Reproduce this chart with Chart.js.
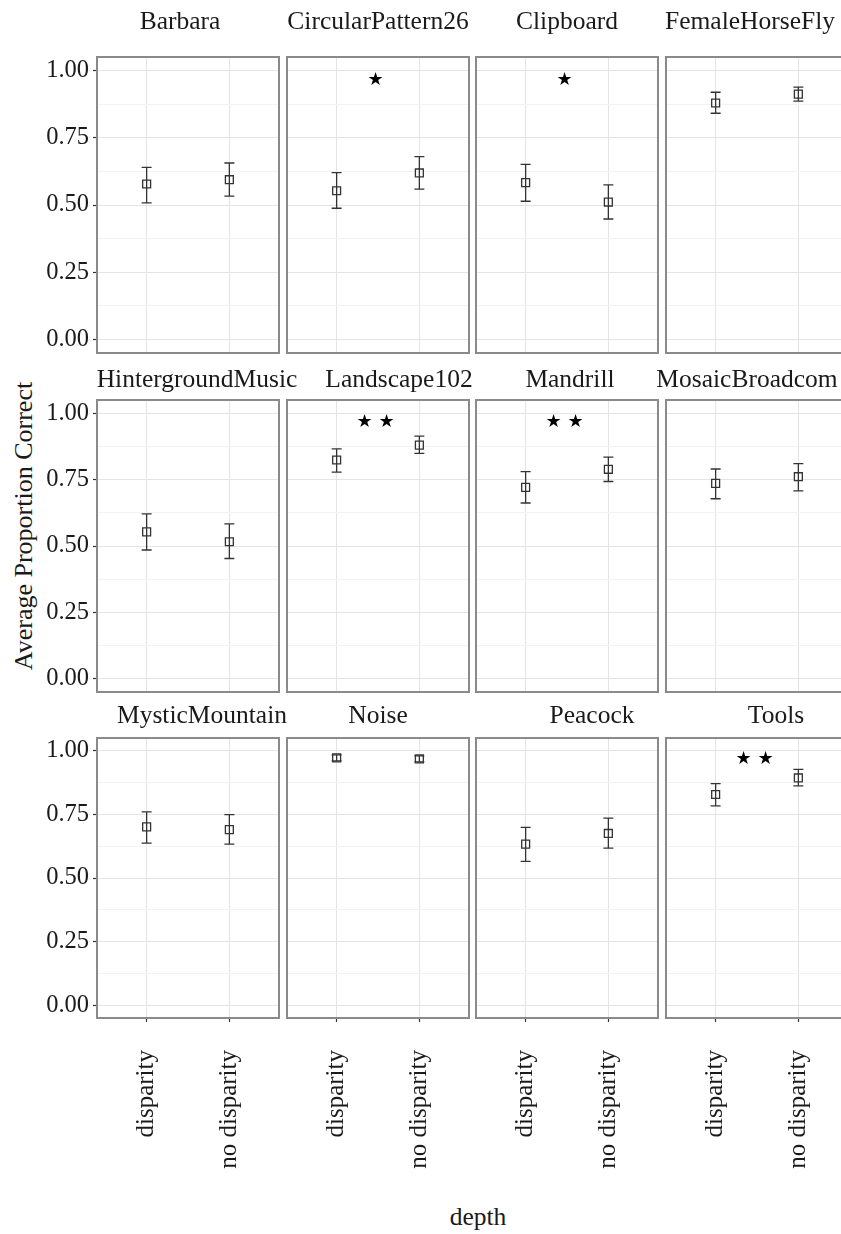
<!DOCTYPE html>
<html>
<head>
<meta charset="utf-8">
<script src="https://cdn.jsdelivr.net/npm/chart.js@4.4.1/dist/chart.umd.min.js"></script>
<style>
  body{margin:0;background:#fff;width:841px;height:1234px;overflow:hidden;position:relative;font-family:"Liberation Serif",serif;color:#1a1a1a}
  canvas{position:absolute}
  .ytitle{position:absolute;left:24px;top:526px;font-size:26px;line-height:1;white-space:nowrap;transform:translate(-50%,-50%) rotate(-90deg)}
  .xtitle{position:absolute;left:478px;top:1217px;font-size:25.5px;line-height:1;white-space:nowrap;transform:translate(-50%,-50%)}
</style>
</head>
<body>
<div class="ytitle">Average Proportion Correct</div>
<div class="xtitle">depth</div>
<script>
// data
const panels = ["Barbara","CircularPattern26","Clipboard","FemaleHorseFly",
  "HintergroundMusic","Landscape102","Mandrill","MosaicBroadcom",
  "MysticMountain","Noise","Peacock","Tools"];
const depthLevels = ["disparity","no disparity"];
const meanDisparity   = [0.578,0.553,0.583,0.879, 0.553,0.824,0.721,0.736, 0.701,0.972,0.633,0.828];
const lowDisparity    = [0.508,0.488,0.514,0.841, 0.485,0.778,0.662,0.678, 0.637,0.960,0.565,0.783];
const highDisparity   = [0.640,0.620,0.651,0.919, 0.621,0.866,0.780,0.790, 0.760,0.984,0.699,0.871];
const meanNoDisparity = [0.594,0.619,0.511,0.912, 0.516,0.880,0.789,0.761, 0.690,0.968,0.675,0.893];
const lowNoDisparity  = [0.533,0.559,0.448,0.886, 0.453,0.849,0.743,0.708, 0.633,0.956,0.617,0.862];
const highNoDisparity = [0.656,0.680,0.575,0.938, 0.583,0.914,0.835,0.810, 0.749,0.980,0.735,0.927];
const significance = ["","★","★","", "","★ ★","★ ★","", "","","","★ ★"];
const sigX = 1.47, sigY = 0.965;

// layout (pixels)
const colL=[97,287,476,666], colW=182;
const rowT=[57,400,738], rowB=[353,692,1018];
const stripGap=[28,13,15];
const stripDx=[-8,0,0,-7, 9,21,3,-10, 14,0,25,19];

const isMajor = v => Math.abs(v*4 - Math.round(v*4)) < 1e-6;
const tickFont = {family:"Liberation Serif", size:24.5};

const panelPlugin = {
  id:"panel",
  beforeDatasetsDraw(chart){
    const {ctx, chartArea:a, scales:{x,y}} = chart;
    const o = chart.options.plugins.panel;
    // error bars
    ctx.save();
    ctx.strokeStyle="#333"; ctx.lineWidth=1.3;
    o.low.forEach((lo,k)=>{
      const px=x.getPixelForValue(k+1), y1=y.getPixelForValue(lo), y2=y.getPixelForValue(o.high[k]);
      ctx.beginPath();
      ctx.moveTo(px,y1); ctx.lineTo(px,y2);
      ctx.moveTo(px-5,y1); ctx.lineTo(px+5,y1);
      ctx.moveTo(px-5,y2); ctx.lineTo(px+5,y2);
      ctx.stroke();
    });
    ctx.restore();
  },
  afterDraw(chart){
    const {ctx, chartArea:a, scales:{x,y}} = chart;
    const o = chart.options.plugins.panel;
    ctx.save();
    // panel border
    ctx.strokeStyle="#8a8a8a"; ctx.lineWidth=2;
    ctx.strokeRect(a.left,a.top,a.right-a.left,a.bottom-a.top);
    // strip label
    ctx.fillStyle="#1a1a1a";
    ctx.font='25.5px "Liberation Serif"';
    ctx.textAlign="center"; ctx.textBaseline="alphabetic";
    ctx.fillText(o.name,(a.left+a.right)/2+o.dx,a.top-o.gap);
    // significance stars
    if(o.sig){
      ctx.fillStyle="#000";
      ctx.font='18px "DejaVu Sans"';
      ctx.textBaseline="middle";
      ctx.fillText(o.sig,x.getPixelForValue(sigX),y.getPixelForValue(sigY));
    }
    ctx.restore();
  }
};

panels.forEach((name,i)=>{
  const r=Math.floor(i/4), c=i%4;
  const left = c===0 ? 0 : colL[c]-40;
  const padL = colL[c]-left - (c===0 ? 97 : 0);
  const yW = c===0 ? 97 : 0;
  const top = Math.max(0,rowT[r]-60);
  const padT = rowT[r]-top;
  const padB = r===2 ? 0 : 25;
  const xH = r===2 ? 200 : 0;
  const w = colL[c]+colW+40-left;
  const h = rowB[r]-top+padB+xH;

  const cv=document.createElement("canvas");
  cv.width=w; cv.height=h;
  cv.style.left=left+"px"; cv.style.top=top+"px";
  cv.style.width=w+"px"; cv.style.height=h+"px";
  document.body.appendChild(cv);

  new Chart(cv,{
    type:"scatter",
    data:{datasets:[{
      data:[{x:1,y:meanDisparity[i]},{x:2,y:meanNoDisparity[i]}],
      pointStyle:"rect", pointRadius:5.6, pointBorderWidth:1.3,
      borderColor:"#333", backgroundColor:"rgba(0,0,0,0)"
    }]},
    options:{
      responsive:false, animation:false, events:[],
      layout:{padding:{left:padL,right:40,top:padT,bottom:padB}},
      plugins:{
        legend:{display:false}, tooltip:{enabled:false},
        panel:{name, dx:stripDx[i], gap:stripGap[r], sig:significance[i],
          low:[lowDisparity[i],lowNoDisparity[i]], high:[highDisparity[i],highNoDisparity[i]]}
      },
      scales:{
        x:{
          type:"linear", min:0.4, max:2.6,
          afterFit:s=>{s.height=xH;},
          afterBuildTicks:s=>{s.ticks=depthLevels.map((_,k)=>({value:k+1}));},
          ticks:{display:r===2, minRotation:90, maxRotation:90, autoSkip:false, padding:28,
            font:{family:"Liberation Serif", size:25}, color:"#1a1a1a",
            callback:v=>depthLevels[Math.round(v)-1]},
          grid:{color:"#e4e4e4", lineWidth:1, drawTicks:r===2, tickLength:4, tickColor:"#333", tickWidth:1.2},
          border:{display:false}
        },
        y:{
          min:-0.05, max:1.05,
          afterFit:s=>{s.width=yW;},
          ticks:{display:c===0, stepSize:0.125, includeBounds:false, padding:4,
            font:tickFont, color:"#1a1a1a",
            callback:v=>isMajor(v)?v.toFixed(2):""},
          grid:{
            color:ctx=>ctx.tick && isMajor(ctx.tick.value)?"#e4e4e4":"#f3f3f3",
            lineWidth:1, drawTicks:c===0, tickLength:4, tickWidth:1.2,
            tickColor:ctx=>ctx.tick && isMajor(ctx.tick.value)?"#333":"rgba(0,0,0,0)"
          },
          border:{display:false}
        }
      }
    },
    plugins:[panelPlugin]
  });
});
</script>
</body>
</html>
